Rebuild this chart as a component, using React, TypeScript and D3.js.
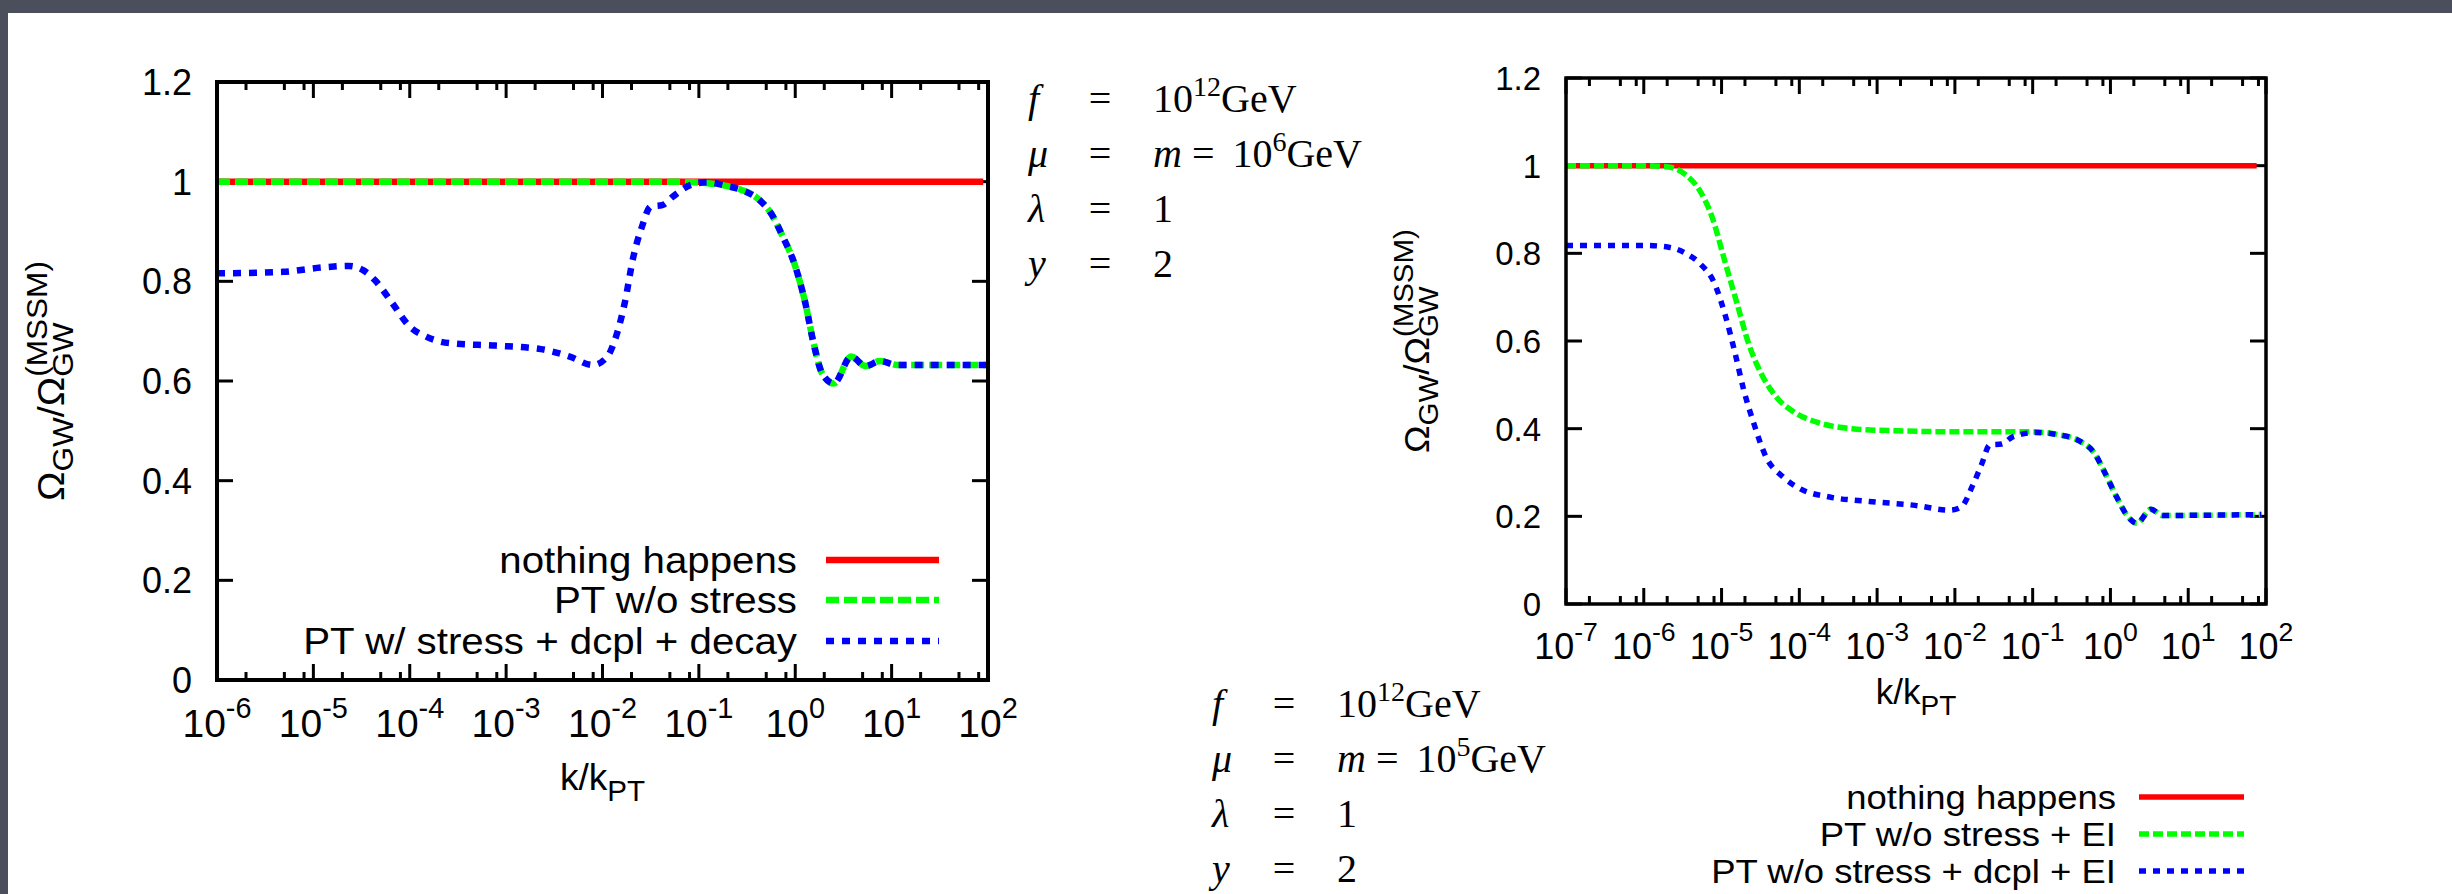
import React, { useRef, useEffect } from 'react';
import * as d3 from 'd3';

const W = 2452;
const H = 894;

// ---- left panel (mu = m = 1e6 GeV), x = log10(k/kPT)
const leftRedLogK = [-6, 1.95];
const leftRedVal = [1, 1];
const leftGreenLogK = [-6, -1.3, -1.09, -0.91, -0.73, -0.55, -0.37, -0.25, -0.13, -0.01, 0.105, 0.19, 0.28, 0.4, 0.58, 0.73, 0.88, 1.06, 2];
const leftGreenVal = [1, 1, 0.999, 0.997, 0.992, 0.983, 0.963, 0.936, 0.89, 0.836, 0.756, 0.676, 0.615, 0.595, 0.649, 0.63, 0.64, 0.632, 0.632];
const leftBlueLogK = [-6, -5.32, -4.9, -4.63, -4.48, -4.36, -4.18, -4.0, -3.83, -3.59, -3.11, -2.64, -2.34, -2.1, -1.95, -1.86, -1.77, -1.68, -1.59, -1.5, -1.38, -1.27, -1.09, -0.91, -0.73, -0.55, -0.37, -0.25, -0.13, -0.01, 0.105, 0.19, 0.28, 0.4, 0.58, 0.73, 0.88, 1.06, 2];
const leftBlueVal = [0.816, 0.819, 0.828, 0.831, 0.822, 0.802, 0.756, 0.709, 0.689, 0.676, 0.671, 0.664, 0.649, 0.632, 0.649, 0.689, 0.756, 0.849, 0.91, 0.95, 0.953, 0.97, 0.993, 0.999, 0.992, 0.983, 0.963, 0.936, 0.89, 0.836, 0.756, 0.676, 0.615, 0.595, 0.649, 0.63, 0.64, 0.632, 0.632];

// ---- right panel (mu = m = 1e5 GeV)
const rightRedLogK = [-7, 1.88];
const rightRedVal = [1, 1];
const rightGreenLogK = [-7, -5.98, -5.68, -5.46, -5.28, -5.13, -4.95, -4.8, -4.65, -4.5, -4.28, -4.06, -3.76, -3.32, -2.73, -1.99, -1.03, -0.66, -0.4, -0.21, -0.07, 0.08, 0.23, 0.34, 0.52, 0.67, 1.94];
const rightGreenVal = [1, 1, 0.997, 0.979, 0.943, 0.887, 0.777, 0.685, 0.593, 0.529, 0.469, 0.437, 0.414, 0.4, 0.395, 0.393, 0.393, 0.386, 0.372, 0.345, 0.299, 0.244, 0.198, 0.184, 0.216, 0.202, 0.204];
const rightBlueLogK = [-7, -5.98, -5.68, -5.46, -5.28, -5.09, -4.95, -4.83, -4.72, -4.58, -4.43, -4.21, -3.98, -3.61, -3.1, -2.51, -2.06, -1.92, -1.77, -1.66, -1.55, -1.4, -1.25, -0.96, -0.66, -0.4, -0.21, -0.07, 0.08, 0.23, 0.34, 0.52, 0.67, 1.94];
const rightBlueVal = [0.818, 0.818, 0.814, 0.8, 0.777, 0.731, 0.657, 0.575, 0.492, 0.409, 0.336, 0.29, 0.262, 0.244, 0.234, 0.225, 0.214, 0.221, 0.271, 0.317, 0.363, 0.365, 0.382, 0.391, 0.386, 0.372, 0.345, 0.299, 0.244, 0.198, 0.184, 0.216, 0.202, 0.204];

const yTickVals = [0, 0.2, 0.4, 0.6, 0.8, 1, 1.2];
const yTickLabels = ['0', '0.2', '0.4', '0.6', '0.8', '1', '1.2'];
const leftDecades = [-6, -5, -4, -3, -2, -1, 0, 1, 2];
const rightDecades = [-7, -6, -5, -4, -3, -2, -1, 0, 1, 2];
const minorMults = [2, 5, 8];

const legendLeft = ['nothing happens', 'PT w/o stress', 'PT w/ stress + dcpl + decay'];
const legendRight = ['nothing happens', 'PT w/o stress + EI', 'PT w/o stress + dcpl + EI'];
const paramSymbols = ['f', 'μ', 'λ', 'y'];
const paramMassExpTop = '6';
const paramMassExpBottom = '5';

const SANS = '"Liberation Sans", Arial, Helvetica, sans-serif';
const SERIF = '"Liberation Serif", "Times New Roman", serif';

type Panel = {
  x0: number; x1: number; y0: number; y1: number;
  decades: number[];
  series: { logK: number[]; val: number[]; color: string; dash: string | null }[];
  lw: number; frameW: number;
  yFont: number; xFont: number; xTickBase: number;
  labelFont: number; xLabelBase: number; yLabelX: number; yLabelLen: number;
  legend: string[]; legX: number; legLine: [number, number]; legY: number[]; legFont: number; legLen: number;
};

function drawPanel(svg: any, p: Panel) {
  const g = svg.append('g');
  const x = d3.scaleLog().domain([10 ** p.decades[0], 10 ** p.decades[p.decades.length - 1]]).range([p.x0, p.x1]);
  const y = d3.scaleLinear().domain([0, 1.2]).range([p.y1, p.y0]);

  // ticks (inward, mirrored)
  const tk = g.append('g').attr('stroke', '#000').attr('stroke-width', 3);
  yTickVals.forEach(v => {
    tk.append('line').attr('x1', p.x0).attr('x2', p.x0 + 16).attr('y1', y(v)).attr('y2', y(v));
    tk.append('line').attr('x1', p.x1).attr('x2', p.x1 - 16).attr('y1', y(v)).attr('y2', y(v));
  });
  p.decades.forEach((e, i) => {
    const xx = x(10 ** e);
    tk.append('line').attr('x1', xx).attr('x2', xx).attr('y1', p.y1).attr('y2', p.y1 - 16);
    tk.append('line').attr('x1', xx).attr('x2', xx).attr('y1', p.y0).attr('y2', p.y0 + 16);
    if (i < p.decades.length - 1) {
      minorMults.forEach(m => {
        const xm = x(m * 10 ** e);
        tk.append('line').attr('x1', xm).attr('x2', xm).attr('y1', p.y1).attr('y2', p.y1 - 8);
        tk.append('line').attr('x1', xm).attr('x2', xm).attr('y1', p.y0).attr('y2', p.y0 + 8);
      });
    }
  });

  // tick labels
  yTickVals.forEach((v, i) => {
    g.append('text').attr('x', p.x0 - 25).attr('y', y(v)).attr('dy', '0.36em')
      .attr('text-anchor', 'end').attr('font-family', SANS).attr('font-size', p.yFont)
      .text(yTickLabels[i]);
  });
  p.decades.forEach(e => {
    const t = g.append('text').attr('x', x(10 ** e)).attr('y', p.xTickBase)
      .attr('text-anchor', 'middle').attr('font-family', SANS).attr('font-size', p.xFont);
    t.append('tspan').text('10');
    t.append('tspan').attr('font-size', p.xFont * 0.74).attr('dy', -p.xFont * 0.5).text(String(e));
  });

  // axis labels
  const xl = g.append('text').attr('x', (p.x0 + p.x1) / 2).attr('y', p.xLabelBase)
    .attr('text-anchor', 'middle').attr('font-family', SANS).attr('font-size', p.labelFont);
  xl.append('tspan').text('k/k');
  xl.append('tspan').attr('font-size', p.labelFont * 0.8).attr('dy', p.labelFont * 0.3).text('PT');

  const sub = p.labelFont * 0.8;
  const yg = g.append('g');
  const yt = yg.append('text').attr('font-family', SANS).attr('font-size', p.labelFont);
  yt.append('tspan').text('Ω');
  yt.append('tspan').attr('font-size', sub).attr('dy', p.labelFont * 0.25).text('GW');
  yt.append('tspan').attr('dy', -p.labelFont * 0.25).text('/Ω');
  const lastGW = yt.append('tspan').attr('font-size', sub).attr('dy', p.labelFont * 0.25).text('GW');
  const sup = yt.append('tspan').attr('font-size', sub).attr('dy', -p.labelFont * 0.72).text('(MSSM)');
  const gwLen = (lastGW.node() as SVGTextContentElement).getComputedTextLength();
  sup.attr('dx', -gwLen);
  const bb = (yt.node() as SVGTextElement).getBBox();
  const sy = p.yLabelLen / bb.width;
  yt.attr('x', -(bb.x + bb.width / 2));
  yg.attr('transform', `translate(${p.yLabelX},${(p.y0 + p.y1) / 2}) rotate(-90) scale(${sy},1)`);

  // curves
  const line = d3.line<[number, number]>().x(d => x(10 ** d[0])).y(d => y(d[1])).curve(d3.curveMonotoneX);
  p.series.forEach(s => {
    const pts = s.logK.map((k, i) => [k, s.val[i]] as [number, number]);
    g.append('path').attr('d', line(pts)).attr('fill', 'none').attr('stroke', s.color)
      .attr('stroke-width', p.lw).attr('stroke-dasharray', s.dash).attr('stroke-linecap', 'butt');
  });

  // frame
  g.append('rect').attr('x', p.x0).attr('y', p.y0).attr('width', p.x1 - p.x0).attr('height', p.y1 - p.y0)
    .attr('fill', 'none').attr('stroke', '#000').attr('stroke-width', p.frameW);

  // legend (text stretched so the longest entry matches the reference width)
  const legTexts = p.legend.map((txt, i) => {
    const lg = g.append('g');
    const t = lg.append('text').attr('text-anchor', 'end')
      .attr('font-family', SANS).attr('font-size', p.legFont).text(txt);
    return { lg, t, i };
  });
  const longest = d3.max(legTexts, d => (d.t.node() as SVGTextElement).getComputedTextLength()) || 1;
  const sx = p.legLen / longest;
  legTexts.forEach(({ lg, i }) => {
    lg.attr('transform', `translate(${p.legX},${p.legY[i] + p.legFont * 0.36}) scale(${sx},1)`);
    const s = p.series[i];
    g.append('line').attr('x1', p.legLine[0]).attr('x2', p.legLine[1]).attr('y1', p.legY[i]).attr('y2', p.legY[i])
      .attr('stroke', s.color).attr('stroke-width', p.lw).attr('stroke-dasharray', s.dash);
  });
}

function drawParams(svg: any, x0: number, yBase: number, massExp: string) {
  const fs = 40;
  const g = svg.append('g').attr('font-family', SERIF).attr('font-size', fs);
  paramSymbols.forEach((sym, i) => {
    const yy = yBase + i * 55;
    g.append('text').attr('x', x0).attr('y', yy).attr('font-style', 'italic').text(sym);
    g.append('text').attr('x', x0 + 72).attr('y', yy).attr('text-anchor', 'middle').text('=');
    const t = g.append('text').attr('x', x0 + 125).attr('y', yy);
    if (i === 0) {
      t.append('tspan').text('10');
      t.append('tspan').attr('font-size', fs * 0.7).attr('dy', -16).text('12');
      t.append('tspan').attr('dy', 16).text('GeV');
    } else if (i === 1) {
      t.append('tspan').attr('font-style', 'italic').text('m');
      t.append('tspan').attr('dx', 10).text('=');
      t.append('tspan').attr('dx', 18).text('10');
      t.append('tspan').attr('font-size', fs * 0.7).attr('dy', -16).text(massExp);
      t.append('tspan').attr('dy', 16).text('GeV');
    } else {
      t.text(i === 2 ? '1' : '2');
    }
  });
}

const App = () => {
  const ref = useRef<SVGSVGElement>(null);

  useEffect(() => {
    document.documentElement.style.overflow = 'hidden';
    document.body.style.margin = '0';

    const svg = d3.select(ref.current).html('');
    svg.append('rect').attr('width', W).attr('height', H).attr('fill', '#4b4f5b');
    svg.append('rect').attr('x', 8).attr('y', 13).attr('width', W - 8).attr('height', H - 13).attr('fill', '#fff');

    drawPanel(svg, {
      x0: 217, x1: 988, y0: 82, y1: 680, decades: leftDecades,
      series: [
        { logK: leftRedLogK, val: leftRedVal, color: '#ff0000', dash: null },
        { logK: leftGreenLogK, val: leftGreenVal, color: '#00ff00', dash: '13 5' },
        { logK: leftBlueLogK, val: leftBlueVal, color: '#0000ff', dash: '8 8' },
      ],
      lw: 6.5, frameW: 4, yFont: 36, xFont: 39, xTickBase: 737,
      labelFont: 37, xLabelBase: 790, yLabelX: 64, yLabelLen: 240,
      legend: legendLeft, legX: 797, legLine: [826, 939], legY: [560, 600, 641], legFont: 37, legLen: 494,
    });
    drawPanel(svg, {
      x0: 1566, x1: 2266, y0: 78, y1: 604, decades: rightDecades,
      series: [
        { logK: rightRedLogK, val: rightRedVal, color: '#ff0000', dash: null },
        { logK: rightGreenLogK, val: rightGreenVal, color: '#00ff00', dash: '10 4' },
        { logK: rightBlueLogK, val: rightBlueVal, color: '#0000ff', dash: '7 7' },
      ],
      lw: 5.5, frameW: 3.5, yFont: 33, xFont: 36, xTickBase: 659,
      labelFont: 35, xLabelBase: 704, yLabelX: 1429, yLabelLen: 224,
      legend: legendRight, legX: 2116, legLine: [2139, 2244], legY: [797, 834, 871], legFont: 34, legLen: 405,
    });

    drawParams(svg, 1028, 112, paramMassExpTop);
    drawParams(svg, 1212, 717, paramMassExpBottom);
  }, []);

  return (
    <svg ref={ref} width={W} height={H}
      style={{ position: 'absolute', left: 0, top: 0, display: 'block' }} />
  );
};

export default App;
